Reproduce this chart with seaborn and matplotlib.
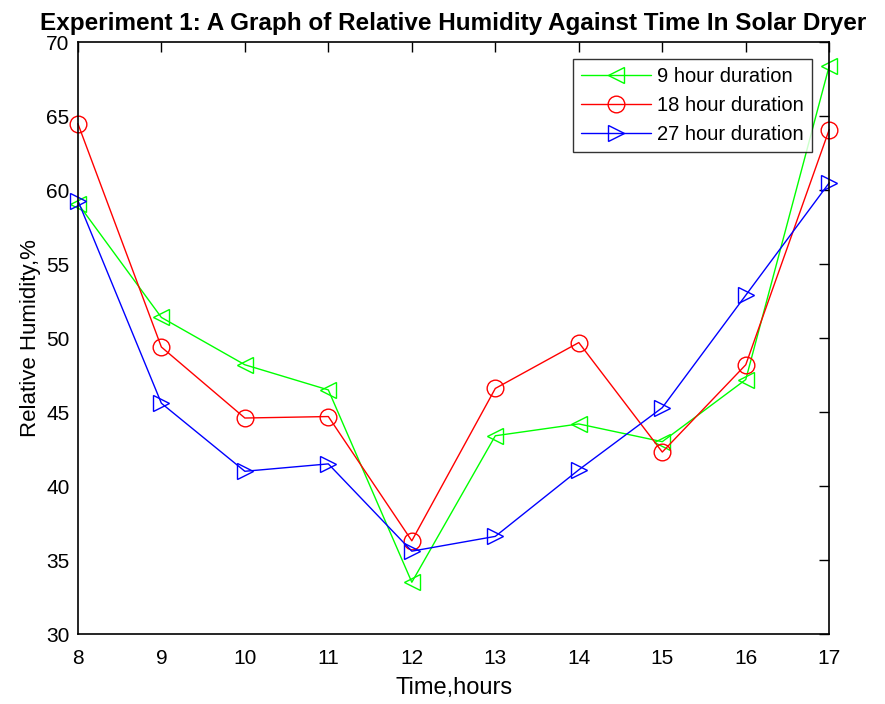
import pandas as pd
import matplotlib
matplotlib.use("Agg")
import matplotlib.pyplot as plt
import seaborn as sns

sns.set_style("white")
plt.rcParams['font.family'] = ['Liberation Sans', 'DejaVu Sans']
plt.rcParams['text.color'] = 'black'
plt.rcParams['axes.labelcolor'] = 'black'

# data
hours = [8, 9, 10, 11, 12, 13, 14, 15, 16, 17]
rh_9h = [59.1, 51.4, 48.2, 46.5, 33.5, 43.4, 44.2, 43.0, 47.2, 68.4]
rh_18h = [64.5, 49.4, 44.6, 44.7, 36.3, 46.6, 49.7, 42.3, 48.2, 64.1]
rh_27h = [59.3, 45.6, 41.0, 41.5, 35.6, 36.6, 41.1, 45.3, 52.9, 60.5]
labels = ["9 hour duration", "18 hour duration", "27 hour duration"]
colors = ["#00ff00", "#ff0000", "#0000ff"]
markers = ["<", "o", ">"]

fig = plt.figure(figsize=(8.85, 7.04), dpi=100)
ax = fig.add_axes([0.088, 0.0994, 0.849, 0.8406])

for vals, lab, c, m in zip([rh_9h, rh_18h, rh_27h], labels, colors, markers):
    df = pd.DataFrame({"Time": hours, "RH": vals})
    sns.lineplot(data=df, x="Time", y="RH", ax=ax, label=lab, color=c,
                 marker=m, markersize=12, markerfacecolor="none",
                 markeredgecolor=c, markeredgewidth=1.0, linewidth=1.0,
                 clip_on=False)

ax.set_xlim(8, 17)
ax.set_ylim(30, 70)
ax.set_xticks(hours)
ax.set_yticks(range(30, 71, 5))
ax.tick_params(direction="in", length=7, width=1, top=True, right=True,
               labelsize=15, colors="black")
ax.tick_params(axis="x", pad=11)
ax.tick_params(axis="y", pad=6)
for s in ax.spines.values():
    s.set_color("black")
    s.set_linewidth(1.2)

ax.set_xlabel("Time,hours", fontsize=17, labelpad=6)
ax.set_ylabel("Relative Humidity,%", fontsize=16, labelpad=4)
ax.set_title("Experiment 1: A Graph of Relative Humidity Against Time In Solar Dryer",
             fontsize=17.5, fontweight="bold", pad=9)

leg = ax.legend(loc="upper right", fontsize=14.5, frameon=True, fancybox=False,
                edgecolor="black", handlelength=3.5, borderpad=0.4,
                labelspacing=0.5, handletextpad=0.3, borderaxespad=0,
                bbox_to_anchor=(0.977, 0.972))
leg.get_frame().set_linewidth(1.0)
leg.set_zorder(5)

fig.savefig("out.png", dpi=100)
